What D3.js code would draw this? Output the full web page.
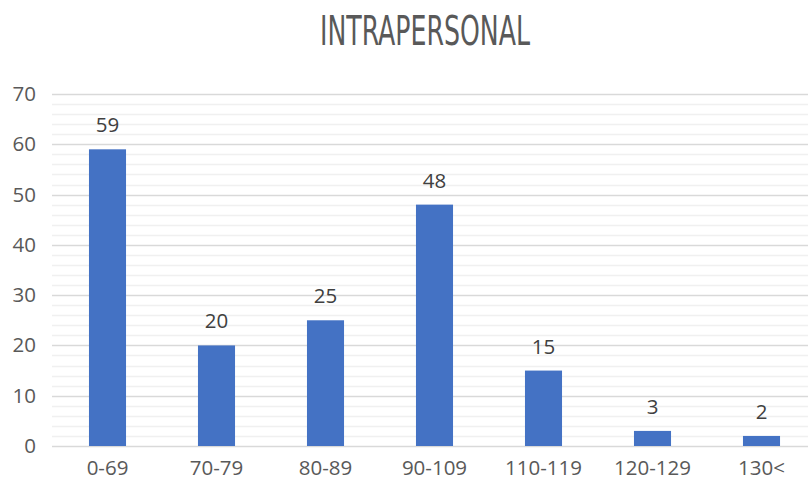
<!DOCTYPE html>
<html>
<head>
<meta charset="utf-8">
<script src="https://cdn.jsdelivr.net/npm/d3@7"></script>
<style>
  body { margin: 0; background: #fff; }
  text { font-family: "Open Sans", sans-serif; }
</style>
</head>
<body>
<script>
var width = 808,
  height = 480;

var categories = ["0-69", "70-79", "80-89", "90-109", "110-119", "120-129", "130<"];
var values = [59, 20, 25, 48, 15, 3, 2];
var yTicks = [0, 10, 20, 30, 40, 50, 60, 70];
var minorTicks = d3.range(0, 71, 2);

var margin = { top: 94, right: 0, bottom: 34, left: 52 };

var svg = d3.select("body").append("svg")
  .attr("width", width)
  .attr("height", height);

// plot area runs a bit past the right edge, like the original
var x = d3.scaleBand()
  .domain(categories)
  .range([53, 816])
  .paddingInner(0.66)
  .paddingOuter(0.33);

var y = d3.scaleLinear()
  .domain([0, 70])
  .range([height - margin.bottom, margin.top]);

// minor grid
svg.append("g")
  .selectAll("line")
  .data(minorTicks.filter(function (d) { return d % 10 != 0; }))
  .enter().append("line")
  .attr("x1", margin.left).attr("x2", width)
  .attr("y1", function (d) { return Math.round(y(d)) + 0.5; })
  .attr("y2", function (d) { return Math.round(y(d)) + 0.5; })
  .attr("stroke", "#f0f0f0")
  .attr("stroke-width", 1.5);

// major grid
svg.append("g")
  .selectAll("line")
  .data(yTicks)
  .enter().append("line")
  .attr("x1", margin.left).attr("x2", width)
  .attr("y1", function (d) { return Math.round(y(d)) + 0.5; })
  .attr("y2", function (d) { return Math.round(y(d)) + 0.5; })
  .attr("stroke", "#d9d9d9")
  .attr("stroke-width", 1.5);

// y axis labels
var yAxis = d3.axisLeft(y).tickValues(yTicks).tickSize(0).tickPadding(16);
svg.append("g")
  .attr("transform", "translate(" + margin.left + ",0)")
  .call(yAxis)
  .call(function (g) { g.select(".domain").remove(); })
  .selectAll("text")
  .style("font-size", "20.5px")
  .style("font-family", "Open Sans, sans-serif")
  .attr("fill", "#595959");

// x axis labels (kept just clear of the bottom edge)
var xAxis = d3.axisBottom(x).tickSize(0).tickPadding(14);
svg.append("g")
  .attr("transform", "translate(0," + (height - margin.bottom) + ")")
  .call(xAxis)
  .call(function (g) { g.select(".domain").remove(); })
  .selectAll("text")
  .style("font-size", "20.5px")
  .style("font-family", "Open Sans, sans-serif")
  .attr("fill", "#595959");

// bars
svg.append("g")
  .selectAll("rect")
  .data(values)
  .enter().append("rect")
  .attr("x", function (d, i) { return x(categories[i]); })
  .attr("y", function (d) { return y(d); })
  .attr("width", x.bandwidth())
  .attr("height", function (d) { return y(0) - y(d); })
  .attr("fill", "#4472c4");

// value labels
svg.append("g")
  .selectAll("text")
  .data(values)
  .enter().append("text")
  .attr("x", function (d, i) { return x(categories[i]) + x.bandwidth() / 2; })
  .attr("y", function (d) { return y(d) - 17; })
  .attr("text-anchor", "middle")
  .style("font-size", "20.5px")
  .attr("fill", "#404040")
  .text(function (d) { return d; });

// title
svg.append("text")
  .attr("x", 425)
  .attr("y", 45)
  .attr("text-anchor", "middle")
  .attr("textLength", 210)
  .attr("lengthAdjust", "spacingAndGlyphs")
  .style("font-family", "'Liberation Sans Narrow', 'DejaVu Sans Condensed', sans-serif")
  .style("font-size", "41px")
  .attr("fill", "#595959")
  .text("INTRAPERSONAL");
</script>
</body>
</html>
